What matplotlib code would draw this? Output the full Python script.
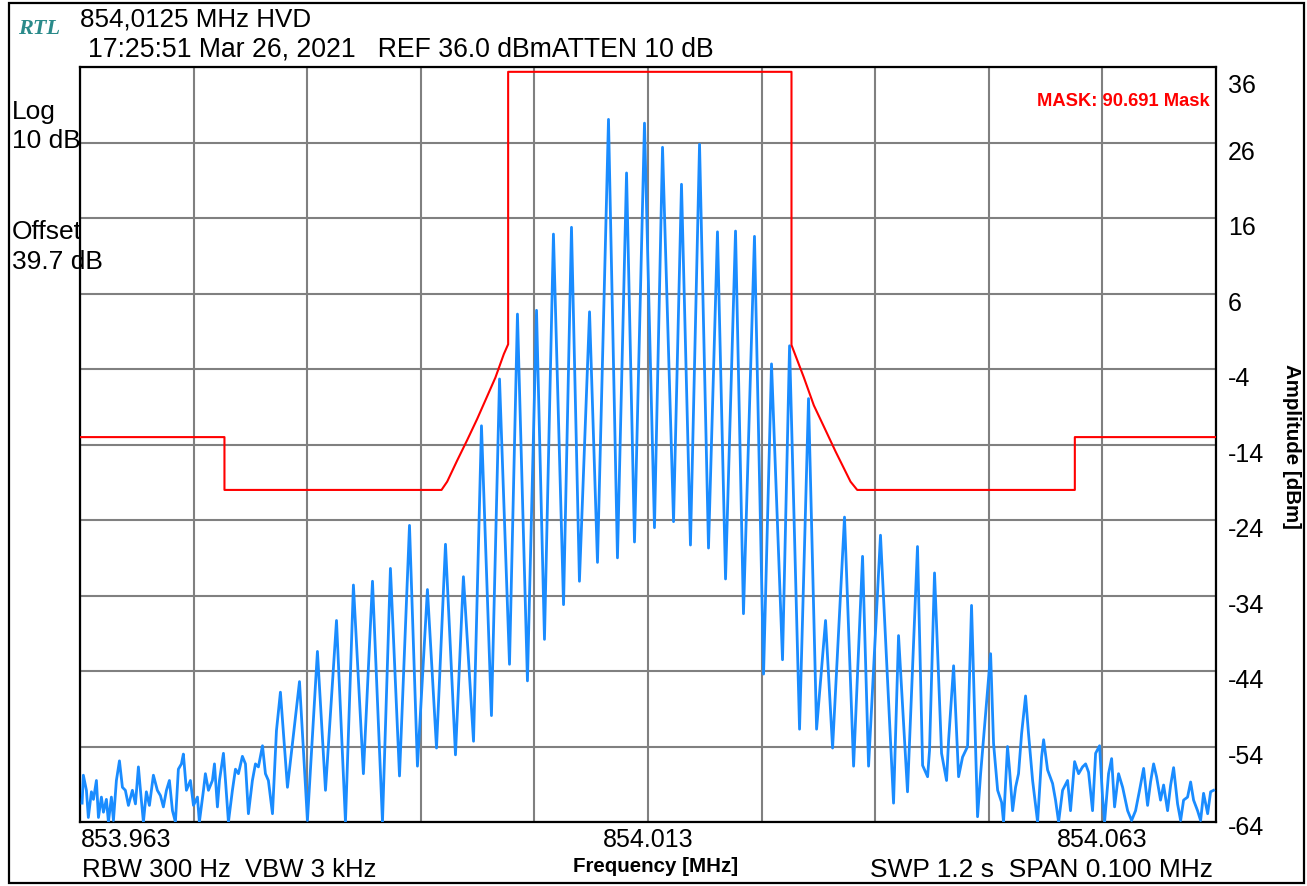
import matplotlib
matplotlib.use('Agg')
import matplotlib.pyplot as plt
from matplotlib.patches import Rectangle
from matplotlib.transforms import ScaledTranslation

plt.rcParams['font.family'] = ['Liberation Sans', 'DejaVu Sans']
plt.rcParams['axes.unicode_minus'] = False

# ---------------- data (frequency offset in kHz from 853.9625 MHz, level in dBm) -------------
trace_khz = [
    0.15, 0.26, 0.53, 0.70, 0.97, 1.15, 1.41, 1.59, 1.85, 2.03, 2.29, 2.47, 2.73, 2.91, 3.17, 3.44,
    3.70, 3.96, 4.23, 4.58, 4.85, 5.11, 5.29, 5.55, 5.81, 6.08, 6.43, 6.78, 7.05, 7.31, 7.58, 7.84,
    8.11, 8.37, 8.63, 8.90, 9.07, 9.34, 9.69, 9.96, 10.31, 10.48, 10.84, 11.01, 11.28, 11.63, 11.81,
    12.07, 12.25, 12.60, 12.78, 13.04, 13.39, 13.66, 13.92, 14.27, 14.54, 14.80, 15.15, 15.42, 15.68,
    16.04, 16.30, 16.56, 16.92, 17.27, 17.62, 18.24, 19.30, 20.00, 20.88, 21.59, 22.56, 23.35, 24.05,
    24.93, 25.73, 26.61, 27.31, 28.11, 28.99, 29.69, 30.57, 31.37, 32.16, 33.04, 33.74, 34.63, 35.33,
    36.21, 36.92, 37.80, 38.50, 39.38, 40.18, 40.88, 41.67, 42.56, 43.26, 43.96, 44.85, 45.55, 46.52,
    47.31, 48.11, 48.81, 49.69, 50.57, 51.28, 52.25, 52.95, 53.74, 54.54, 55.33, 56.12, 56.83, 57.71,
    58.41, 59.38, 60.18, 60.88, 61.85, 62.47, 63.35, 64.14, 64.85, 65.64, 66.26, 67.31, 68.11, 68.90,
    69.43, 70.48, 71.63, 72.07, 72.86, 73.74, 74.19, 74.63, 74.80, 75.24, 75.86, 76.30, 76.48, 76.92,
    77.36, 77.71, 78.15, 78.50, 79.03, 79.30, 79.74, 80.18, 80.44, 80.80, 81.15, 81.32, 81.67, 81.85,
    82.12, 82.38, 82.64, 82.91, 83.26, 83.52, 83.88, 84.32, 84.67, 84.85, 85.20, 85.64, 85.90, 86.17,
    86.52, 86.96, 87.22, 87.58, 87.93, 88.28, 88.55, 88.81, 89.16, 89.43, 89.78, 90.04, 90.22, 90.57,
    90.84, 91.10, 91.45, 91.81, 92.25, 92.60, 92.95, 93.30, 93.66, 94.01, 94.27, 94.54, 94.80, 95.15,
    95.42, 95.77, 96.04, 96.30, 96.65, 96.92, 97.18, 97.53, 97.80, 98.06, 98.41, 98.68, 98.94, 99.30,
    99.56, 99.82,
]
trace_dbm = [
    -61.5, -57.8, -59.8, -63.4, -60.0, -61.0, -58.5, -63.4, -60.7, -62.7, -61.0, -64.0, -60.7, -63.8, -58.5, -55.9,
    -59.4, -59.8, -61.8, -59.8, -61.6, -56.7, -59.8, -64.0, -60.0, -61.8, -57.8, -59.8, -60.5, -62.0, -59.8, -58.5,
    -62.5, -64.0, -57.0, -56.3, -55.0, -59.8, -58.5, -61.8, -60.7, -64.0, -59.8, -57.6, -59.8, -58.5, -56.3,
    -62.0, -58.5, -54.9, -58.5, -64.0, -59.8, -57.0, -57.6, -55.3, -56.3, -62.9, -58.5, -56.3, -56.7,
    -53.9, -57.6, -58.5, -62.9, -51.9, -46.8, -59.4, -45.4, -63.8, -41.4, -59.8, -37.3, -64.0, -32.6,
    -57.6, -32.1, -64.0, -30.4, -57.9, -24.7, -56.6, -33.2, -54.2, -27.2, -55.1, -31.5, -53.3, -11.5,
    -49.9, -5.3, -43.1, 3.3, -45.3, 3.8, -39.8, 13.9, -35.2, 14.8, -32.1, 3.6, -29.6, 29.1,
    -29.0, 22.0, -26.9, 28.6, -25.0, 25.4, -24.2, 20.5, -27.3, 25.8, -27.7, 14.2, -31.8, 14.3,
    -36.4, 13.6, -44.4, -3.3, -42.5, -0.9, -51.7, -7.9, -51.7, -37.3, -54.2, -23.6, -56.6, -28.8,
    -56.6, -26.0, -61.5, -39.3, -60.0, -27.5, -56.5, -58.0, -54.5, -31.0, -54.9, -58.5, -53.2, -43.3,
    -58.0, -55.4, -54.0, -35.3, -63.3, -57.6, -49.6, -41.7, -53.6, -59.8, -61.4, -64.0, -54.0, -57.1,
    -62.5, -59.4, -57.6, -52.3, -47.3, -52.3, -58.5, -64.0, -55.4, -53.1, -57.1, -58.9, -61.1, -64.0,
    -59.8, -58.5, -62.5, -56.0, -57.6, -56.7, -56.3, -57.4, -62.5, -54.9, -53.9, -60.7, -64.0, -57.6,
    -55.6, -62.0, -57.6, -59.4, -62.5, -63.8, -62.5, -59.8, -56.9, -61.8, -58.7, -56.3, -58.0, -61.1,
    -59.1, -62.5, -59.1, -56.8, -61.6, -63.8, -61.1, -60.7, -58.7, -61.1, -62.5, -63.8, -60.2, -62.9,
    -60.0, -59.8,
]

mask_khz = [0, 12.69, 12.69, 31.81, 32.31, 33.19, 34.07, 34.95, 35.83, 36.56, 37.30, 37.68,
            37.68, 62.64, 62.64, 63.73, 64.61, 65.49, 66.52, 67.84, 68.43, 87.60, 87.60, 100]
mask_dbm = [-13, -13, -20, -20, -18.9, -16.1, -13.4, -10.6, -7.6, -5.1, -2.0, -0.7,
            35.4, 35.4, -0.8, -5.1, -8.8, -11.6, -14.9, -18.9, -20, -20, -13, -13]

x_ticks = [0, 10, 20, 30, 40, 50, 60, 70, 80, 90, 100]
x_tick_labels = ['853.963', '', '', '', '', '854.013', '', '', '', '854.063', '']
y_ticks = [36, 26, 16, 6, -4, -14, -24, -34, -44, -54, -64]

# ---------------- figure ----------------
W, H = 1307, 886
fig = plt.figure(figsize=(W / 100, H / 100), dpi=100)
fig.patch.set_facecolor('white')

def fx(px):
    return px / W

def fy(py):
    return 1 - py / H

ax = fig.add_axes([fx(80.4), fy(822), fx(1215.6) - fx(80.4), fy(67.3) - fy(822)])
ax.plot(trace_khz, trace_dbm, color='#1a8cff', lw=2.0, zorder=3)
ax.plot(mask_khz, mask_dbm, color='#ff0000', lw=1.5, zorder=4)

ax.set_xlim(0, 100)
ax.set_ylim(-64, 36)
ax.set_xticks(x_ticks)
ax.set_xticklabels(x_tick_labels, fontsize=18)
ax.set_yticks(y_ticks)
ax.yaxis.tick_right()
ax.tick_params(length=0)
ax.tick_params(axis='x', pad=4)
ax.tick_params(axis='y', pad=9, labelsize=18)
yt = ax.yaxis.get_major_ticks()
for t in yt:
    t.label2.set_va('top')
    t.label2.set_ha('left')
    t.label2.set_transform(t.label2.get_transform()
                           + ScaledTranslation(0, 2 / 100, fig.dpi_scale_trans))
yt[0].label2.set_transform(yt[0].label2.get_transform()
                           + ScaledTranslation(0, -9 / 100, fig.dpi_scale_trans))
yt[-1].label2.set_transform(yt[-1].label2.get_transform()
                            + ScaledTranslation(0, 4 / 100, fig.dpi_scale_trans))
ax.get_xticklabels()[0].set_ha('left')
ax.grid(True, color='#808080', lw=1.5, zorder=1)
ax.set_axisbelow(True)
for s in ax.spines.values():
    s.set_linewidth(1.6)
    s.set_color('black')

# outer frame
fig.patches.append(Rectangle((fx(9), fy(883)), fx(1304) - fx(9), fy(3) - fy(883),
                             transform=fig.transFigure, fill=False, ec='black', lw=1.6))

# header texts
fig.text(fx(18), fy(29), 'RTL', family='Liberation Serif', style='italic', fontweight='bold',
         fontsize=16, color='#2a8a8a', va='center', ha='left')
fig.text(fx(80), fy(20), '854,0125 MHz HVD', fontsize=18.7, va='center', ha='left')
fig.text(fx(88), fy(50), '17:25:51 Mar 26, 2021   REF 36.0 dBmATTEN 10 dB', fontsize=19.2,
         va='center', ha='left')

fig.text(fx(12), fy(112), 'Log', fontsize=19, va='center', ha='left')
fig.text(fx(12), fy(141), '10 dB', fontsize=19, va='center', ha='left')
fig.text(fx(12), fy(232), 'Offset', fontsize=19, va='center', ha='left')
fig.text(fx(12), fy(262), '39.7 dB', fontsize=19, va='center', ha='left')

fig.text(fx(1210), fy(102), 'MASK: 90.691 Mask', fontsize=13.2, fontweight='bold',
         color='#ff0000', va='center', ha='right')

fig.text(fx(1291), fy(446), 'Amplitude [dBm]', fontsize=14.8, fontweight='bold',
         rotation=270, va='center', ha='center')

fig.text(fx(82), fy(870), 'RBW 300 Hz  VBW 3 kHz', fontsize=18.5, va='center', ha='left')
fig.text(fx(656), fy(867), 'Frequency [MHz]', fontsize=14.8, fontweight='bold',
         va='center', ha='center')
fig.text(fx(1213), fy(870), 'SWP 1.2 s  SPAN 0.100 MHz', fontsize=19, va='center', ha='right')

fig.savefig('out.png', dpi=100)
